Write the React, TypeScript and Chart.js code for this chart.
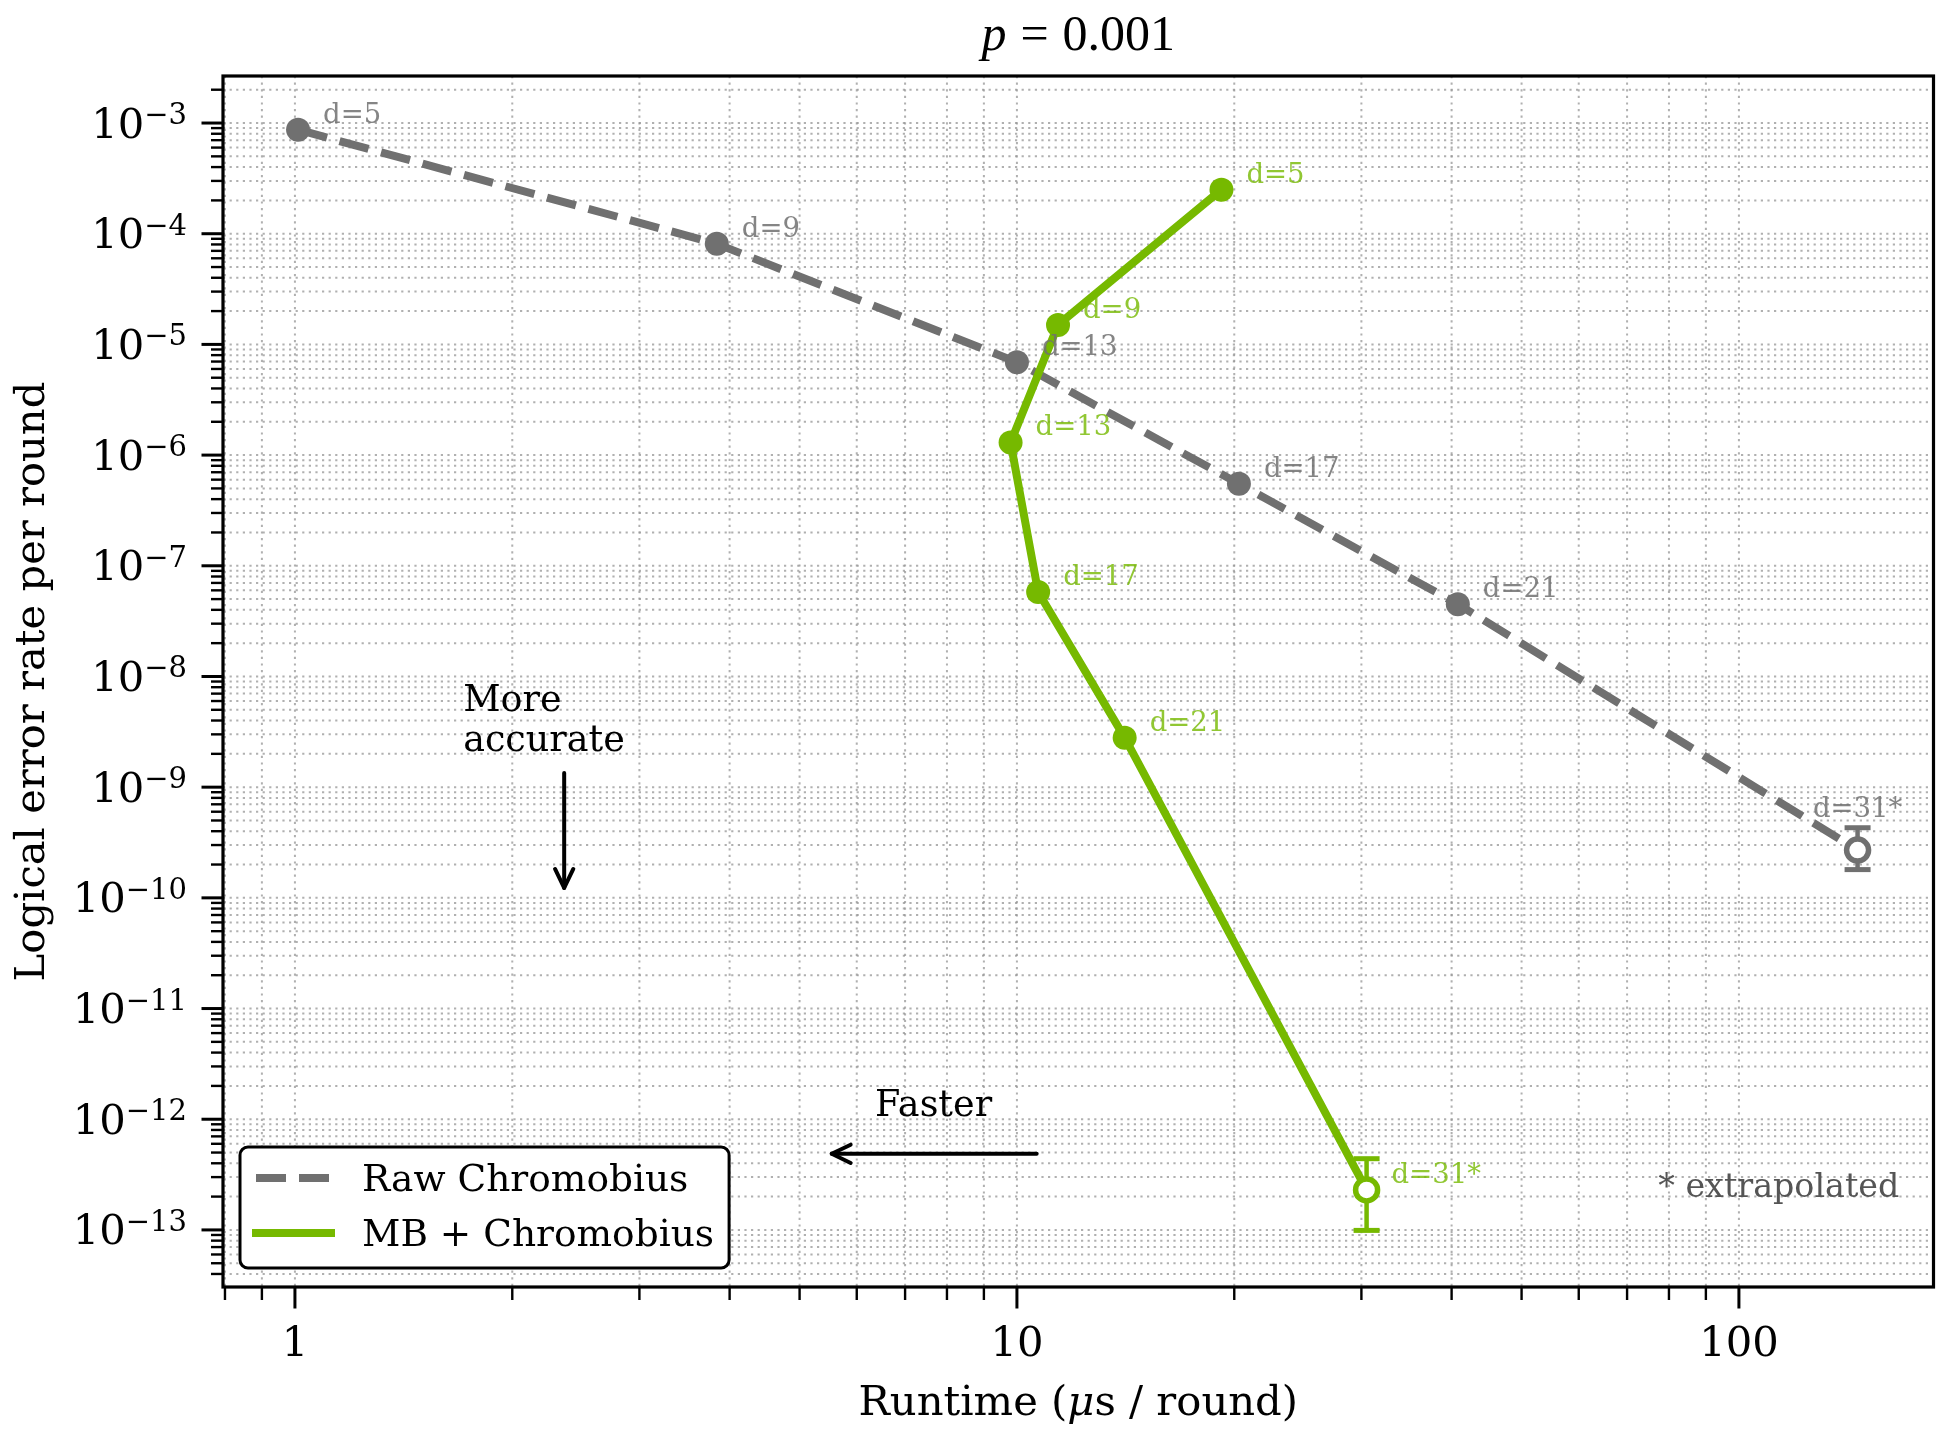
import { useEffect, useRef } from 'react';
import { Chart, registerables, Plugin } from 'chart.js';

Chart.register(...registerables);

// code distance for every point (same order in both series)
const distanceLabels = ['d=5', 'd=9', 'd=13', 'd=17', 'd=21', 'd=31*'];
const extrapolated = [false, false, false, false, false, true];

// Raw Chromobius
const rawRuntime = [1.01, 3.84, 10.0, 20.3, 40.8, 146];
const rawError = [8.7e-4, 8.1e-5, 6.9e-6, 5.5e-7, 4.5e-8, 2.7e-10];
const rawErrLow = [null, null, null, null, null, 1.8e-10];
const rawErrHigh = [null, null, null, null, null, 4.3e-10];

// MB + Chromobius
const mbRuntime = [19.2, 11.4, 9.8, 10.7, 14.1, 30.5];
const mbError = [2.5e-4, 1.5e-5, 1.3e-6, 5.8e-8, 2.8e-9, 2.3e-13];
const mbErrLow = [null, null, null, null, null, 9.9e-14];
const mbErrHigh = [null, null, null, null, null, 4.4e-13];

// axes
const xMajorTicks = [1, 10, 100];
const xTickLabels = ['1', '10', '100'];
const yMajorExponents = [-3, -4, -5, -6, -7, -8, -9, -10, -11, -12, -13];
const X_MIN = 0.795;
const X_MAX = 186;
const Y_MIN = 3.05e-14;
const Y_MAX = 2.66e-3;

const GRAY = '#707070';
const GREEN = '#76b900';
const FONT = "'DejaVu Serif', serif";

const errorBars = [
  { low: rawErrLow, high: rawErrHigh, color: GRAY },
  { low: mbErrLow, high: mbErrHigh, color: GREEN },
];
const labelColors = ['rgba(112,112,112,0.85)', 'rgba(118,185,0,0.8)'];

function minorValues(min: number, max: number) {
  const out: { v: number; major: boolean }[] = [];
  for (let e = Math.floor(Math.log10(min)); e <= Math.ceil(Math.log10(max)); e++) {
    for (let m = 1; m <= 9; m++) {
      const v = m * Math.pow(10, e);
      if (v >= min && v <= max) out.push({ v, major: m === 1 });
    }
  }
  return out;
}

function arrow(ctx: CanvasRenderingContext2D, x1: number, y1: number, x2: number, y2: number) {
  const ang = Math.atan2(y2 - y1, x2 - x1);
  const len = 21;
  const half = 0.45;
  ctx.save();
  ctx.strokeStyle = '#000';
  ctx.lineWidth = 4;
  ctx.lineCap = 'round';
  ctx.lineJoin = 'round';
  ctx.beginPath();
  ctx.moveTo(x1, y1);
  ctx.lineTo(x2, y2);
  ctx.stroke();
  ctx.beginPath();
  ctx.moveTo(x2 - len * Math.cos(ang - half), y2 - len * Math.sin(ang - half));
  ctx.lineTo(x2, y2);
  ctx.lineTo(x2 - len * Math.cos(ang + half), y2 - len * Math.sin(ang + half));
  ctx.stroke();
  ctx.restore();
}

const gridPlugin: Plugin<'line'> = {
  id: 'logGrid',
  beforeDatasetsDraw(chart) {
    const { ctx, chartArea: a, scales } = chart;
    const xs = scales.x;
    const ys = scales.y;
    ctx.save();
    ctx.strokeStyle = 'rgba(150,150,150,0.75)';
    ctx.lineWidth = 2;
    ctx.setLineDash([2.2, 4.4]);
    for (const t of minorValues(X_MIN, X_MAX)) {
      const px = xs.getPixelForValue(t.v);
      ctx.beginPath();
      ctx.moveTo(px, a.top);
      ctx.lineTo(px, a.bottom);
      ctx.stroke();
    }
    for (const t of minorValues(Y_MIN, Y_MAX)) {
      const py = ys.getPixelForValue(t.v);
      ctx.beginPath();
      ctx.moveTo(a.left, py);
      ctx.lineTo(a.right, py);
      ctx.stroke();
    }
    ctx.restore();

    // error bars sit under the open markers
    ctx.save();
    errorBars.forEach((eb, i) => {
      const meta = chart.getDatasetMeta(i);
      eb.low.forEach((lo, j) => {
        const hi = eb.high[j];
        if (lo == null || hi == null) return;
        const px = meta.data[j].x;
        const yLo = ys.getPixelForValue(lo);
        const yHi = ys.getPixelForValue(hi);
        ctx.strokeStyle = eb.color;
        ctx.lineWidth = 4.5;
        ctx.beginPath();
        ctx.moveTo(px, yLo);
        ctx.lineTo(px, yHi);
        ctx.stroke();
        ctx.lineWidth = 5;
        for (const yy of [yLo, yHi]) {
          ctx.beginPath();
          ctx.moveTo(px - 13, yy);
          ctx.lineTo(px + 13, yy);
          ctx.stroke();
        }
      });
    });
    ctx.restore();
  },
  afterDatasetsDraw(chart) {
    const { ctx, chartArea: a, scales } = chart;
    const xs = scales.x;
    const ys = scales.y;

    // point annotations
    ctx.save();
    ctx.font = `27.5px ${FONT}`;
    ctx.textBaseline = 'alphabetic';
    [0, 1].forEach((i) => {
      const meta = chart.getDatasetMeta(i);
      ctx.fillStyle = labelColors[i];
      distanceLabels.forEach((lab, j) => {
        const p = meta.data[j];
        const w = ctx.measureText(lab).width;
        if (p.x + 25 + w > a.right - 4) {
          ctx.textAlign = 'center';
          ctx.fillText(lab, p.x, p.y - 33);
        } else {
          ctx.textAlign = 'left';
          ctx.fillText(lab, p.x + 25, p.y - 7);
        }
      });
    });
    ctx.restore();

    // direction hints
    ctx.save();
    ctx.fillStyle = '#000';
    ctx.font = `36.5px ${FONT}`;
    ctx.textAlign = 'left';
    const maX = xs.getPixelForValue(1.71);
    const maY = ys.getPixelForValue(4.9e-9);
    ctx.fillText('More', maX, maY);
    ctx.fillText('accurate', maX, maY + 40);
    arrow(ctx, xs.getPixelForValue(2.36), ys.getPixelForValue(1.34e-9), xs.getPixelForValue(2.36), ys.getPixelForValue(1.23e-10));
    ctx.fillText('Faster', xs.getPixelForValue(6.36), ys.getPixelForValue(1.07e-12));
    arrow(ctx, xs.getPixelForValue(10.65), ys.getPixelForValue(4.87e-13), xs.getPixelForValue(5.54), ys.getPixelForValue(4.87e-13));
    ctx.font = `33.3px ${FONT}`;
    ctx.fillStyle = '#555555';
    ctx.textAlign = 'right';
    ctx.fillText('* extrapolated', a.left + 0.98 * (a.right - a.left), a.bottom - 90);
    ctx.restore();
  },
  afterDraw(chart) {
    const { ctx, chartArea: a, scales } = chart;
    const xs = scales.x;
    const ys = scales.y;
    ctx.save();

    // legend
    const lx = a.left + 17;
    const ly = a.bottom - 140;
    ctx.font = `37.5px ${FONT}`;
    const names = chart.data.datasets.map((d) => String(d.label));
    const tw = Math.max(...names.map((n) => ctx.measureText(n).width));
    const lw = 122 + tw + 15;
    const lh = 121;
    ctx.beginPath();
    ctx.roundRect(lx, ly, lw, lh, 8);
    ctx.fillStyle = '#ffffff';
    ctx.fill();
    ctx.strokeStyle = '#000';
    ctx.lineWidth = 3;
    ctx.stroke();
    chart.data.datasets.forEach((d, i) => {
      const rowY = ly + 31 + i * 55;
      ctx.strokeStyle = String(d.borderColor);
      ctx.lineWidth = 8;
      ctx.setLineDash((d as any).borderDash || []);
      ctx.lineCap = (d as any).borderDash ? 'butt' : 'square';
      ctx.beginPath();
      ctx.moveTo(lx + 16, rowY);
      ctx.lineTo(lx + 91, rowY);
      ctx.stroke();
      ctx.setLineDash([]);
      ctx.fillStyle = '#000';
      ctx.textAlign = 'left';
      ctx.textBaseline = 'alphabetic';
      ctx.fillText(names[i], lx + 122, rowY + 13);
    });

    // frame
    ctx.lineCap = 'butt';
    ctx.strokeStyle = '#000';
    ctx.lineWidth = 3.2;
    ctx.strokeRect(a.left, a.top, a.right - a.left, a.bottom - a.top);

    // x ticks
    for (const t of minorValues(X_MIN, X_MAX)) {
      const px = xs.getPixelForValue(t.v);
      ctx.lineWidth = t.major ? 3 : 2.4;
      ctx.beginPath();
      ctx.moveTo(px, a.bottom);
      ctx.lineTo(px, a.bottom + (t.major ? 21.5 : 13));
      ctx.stroke();
    }
    // y ticks
    for (const t of minorValues(Y_MIN, Y_MAX)) {
      const py = ys.getPixelForValue(t.v);
      ctx.lineWidth = t.major ? 3 : 2.4;
      ctx.beginPath();
      ctx.moveTo(a.left, py);
      ctx.lineTo(a.left - (t.major ? 21.5 : 12), py);
      ctx.stroke();
    }

    ctx.fillStyle = '#000';
    ctx.textBaseline = 'alphabetic';
    ctx.font = `41.7px ${FONT}`;
    ctx.textAlign = 'center';
    xMajorTicks.forEach((v, i) => {
      ctx.fillText(xTickLabels[i], xs.getPixelForValue(v), a.bottom + 69);
    });

    const baseFont = `41.7px ${FONT}`;
    const expFont = `29px ${FONT}`;
    ctx.textAlign = 'left';
    yMajorExponents.forEach((e) => {
      const py = ys.getPixelForValue(Math.pow(10, e));
      const exp = '\u2212' + Math.abs(e);
      ctx.font = expFont;
      const we = ctx.measureText(exp).width;
      ctx.font = baseFont;
      const wb = ctx.measureText('10').width;
      const right = a.left - 36;
      ctx.fillText('10', right - we - wb, py + 14.5);
      ctx.font = expFont;
      ctx.fillText(exp, right - we, py + 1);
    });

    // axis titles
    const parts = [
      { t: 'Runtime (', f: `41.7px ${FONT}` },
      { t: '\u03bc', f: `italic 41.7px ${FONT}` },
      { t: 's / round)', f: `41.7px ${FONT}` },
    ];
    const widths = parts.map((p) => {
      ctx.font = p.f;
      return ctx.measureText(p.t).width;
    });
    const total = widths.reduce((s, w) => s + w, 0);
    let cx = (a.left + a.right) / 2 - total / 2;
    parts.forEach((p, i) => {
      ctx.font = p.f;
      ctx.fillText(p.t, cx, 1415);
      cx += widths[i];
    });

    ctx.save();
    ctx.translate(44, (a.top + a.bottom) / 2);
    ctx.rotate(-Math.PI / 2);
    ctx.font = `41.7px ${FONT}`;
    ctx.textAlign = 'center';
    ctx.fillText('Logical error rate per round', 0, 0);
    ctx.restore();

    // title  p = 0.001
    const tFont = "50px 'Liberation Serif', serif";
    const tItal = "italic 50px 'Liberation Serif', serif";
    const gap = 14;
    ctx.font = tItal;
    const wp = ctx.measureText('p').width;
    ctx.font = tFont;
    const weq = ctx.measureText('=').width;
    const wn = ctx.measureText('0.001').width;
    const tw2 = wp + gap + weq + gap + wn;
    let tx = (a.left + a.right) / 2 - tw2 / 2;
    ctx.font = tItal;
    ctx.fillText('p', tx, 50);
    tx += wp + gap;
    ctx.font = tFont;
    ctx.fillText('=', tx, 50);
    tx += weq + gap;
    ctx.fillText('0.001', tx, 50);

    ctx.restore();
  },
};

export default function App() {
  const canvasRef = useRef<HTMLCanvasElement>(null);

  useEffect(() => {
    document.body.style.margin = '0';
    const canvas = canvasRef.current;
    if (!canvas) return;

    const chart = new Chart(canvas, {
      type: 'line',
      data: {
        datasets: [
          {
            label: 'Raw Chromobius',
            data: rawRuntime.map((x, i) => ({ x, y: rawError[i] })),
            borderColor: GRAY,
            borderWidth: 8,
            borderDash: [30, 13],
            borderJoinStyle: 'round',
            pointRadius: extrapolated.map((e) => (e ? 11 : 12)),
            pointHoverRadius: extrapolated.map((e) => (e ? 11 : 12)),
            pointBackgroundColor: extrapolated.map((e) => (e ? '#ffffff' : GRAY)),
            pointBorderColor: GRAY,
            pointBorderWidth: extrapolated.map((e) => (e ? 5.5 : 0)),
            fill: false,
            tension: 0,
            order: 2,
          },
          {
            label: 'MB + Chromobius',
            data: mbRuntime.map((x, i) => ({ x, y: mbError[i] })),
            borderColor: GREEN,
            borderWidth: 8,
            borderJoinStyle: 'round',
            pointRadius: extrapolated.map((e) => (e ? 11 : 12)),
            pointHoverRadius: extrapolated.map((e) => (e ? 11 : 12)),
            pointBackgroundColor: extrapolated.map((e) => (e ? '#ffffff' : GREEN)),
            pointBorderColor: GREEN,
            pointBorderWidth: extrapolated.map((e) => (e ? 5.5 : 0)),
            fill: false,
            tension: 0,
            order: 1,
          },
        ],
      },
      options: {
        responsive: false,
        animation: false,
        events: [],
        layout: { padding: { left: 223, top: 76, right: 13, bottom: 153 } },
        scales: {
          x: { type: 'logarithmic', min: X_MIN, max: X_MAX, display: false },
          y: { type: 'logarithmic', min: Y_MIN, max: Y_MAX, display: false },
        },
        plugins: {
          legend: { display: false },
          title: { display: false },
          tooltip: { enabled: false },
        },
      },
      plugins: [gridPlugin],
    });

    return () => {
      chart.destroy();
    };
  }, []);

  return (
    <div style={{ width: 1950, height: 1440, background: '#fff' }}>
      <canvas ref={canvasRef} width={1950} height={1440} style={{ display: 'block', width: 1950, height: 1440 }} />
    </div>
  );
}
